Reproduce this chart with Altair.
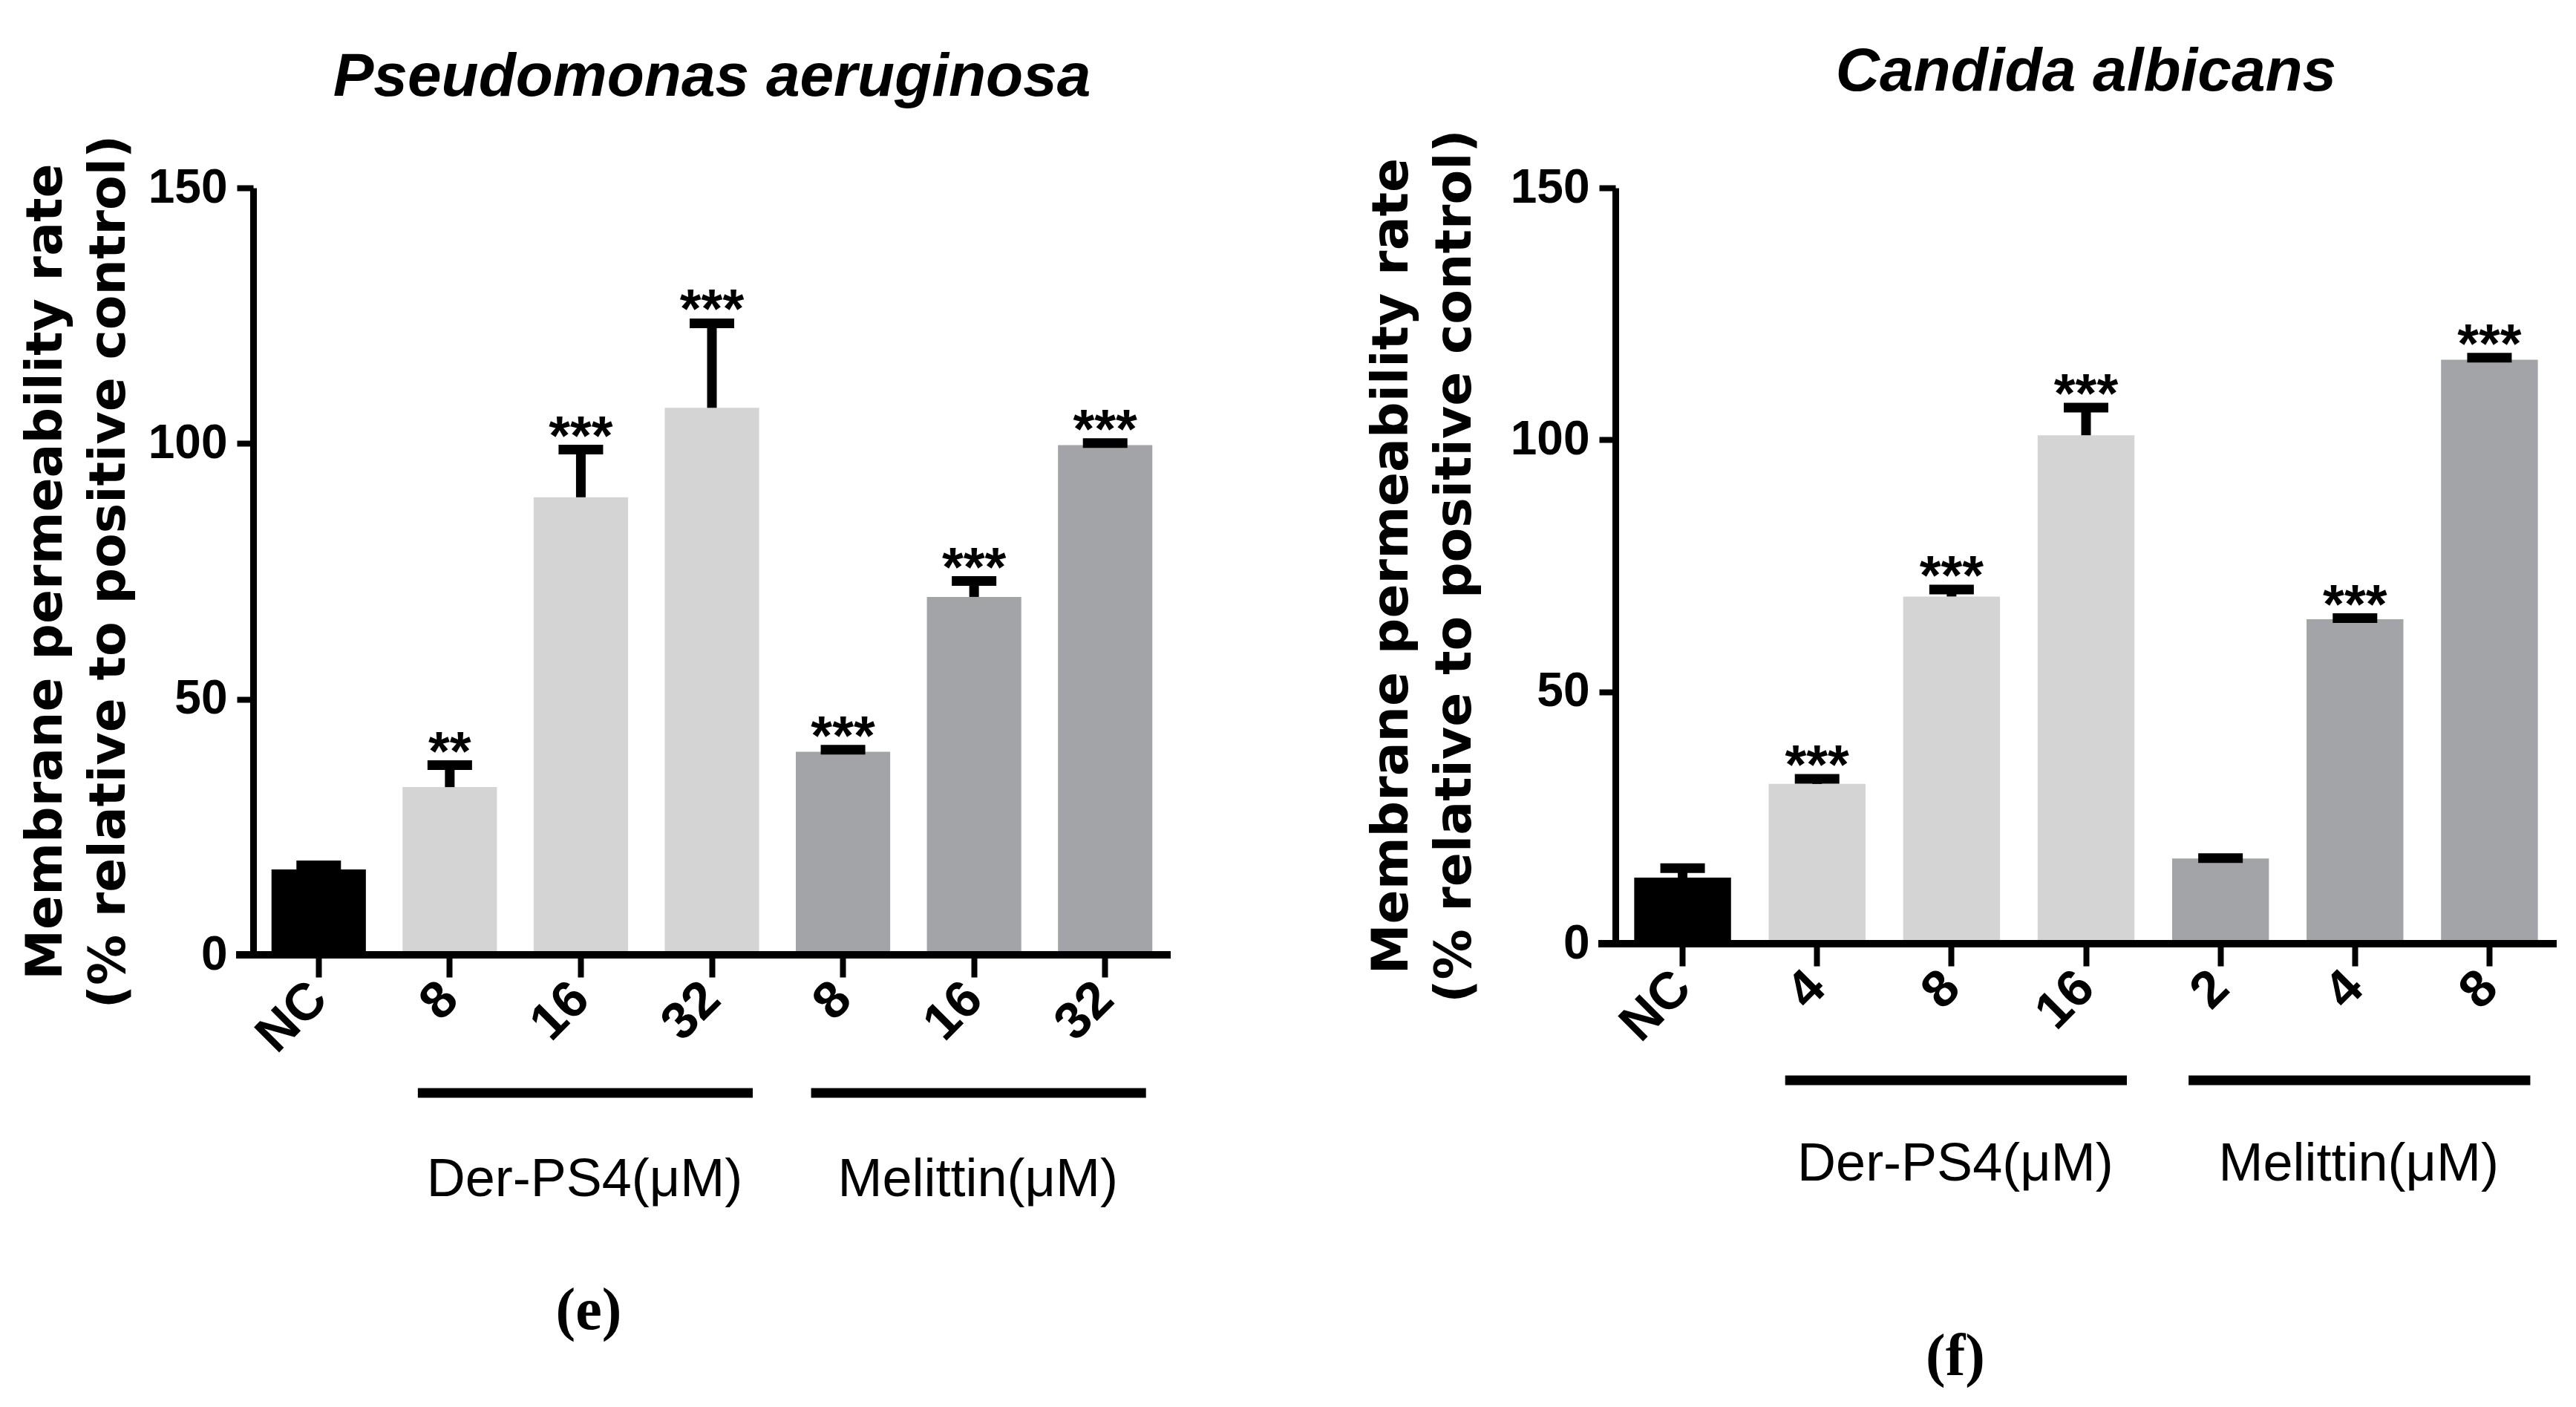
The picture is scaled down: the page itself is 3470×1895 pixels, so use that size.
import altair as alt
import pandas as pd

SANS = "Liberation Sans, Arial, sans-serif"
WIDE = "DejaVu Sans, Verdana, sans-serif"
SERIF = "Liberation Serif, Times New Roman, serif"

# ---- data ----
left_cats = ["NC", "Der-PS4 8", "Der-PS4 16", "Der-PS4 32", "Melittin 8", "Melittin 16", "Melittin 32"]
left_ticks = ["NC", "8", "16", "32", "8", "16", "32"]
left_groups = ["NC", "Der-PS4", "Der-PS4", "Der-PS4", "Melittin", "Melittin", "Melittin"]
left_mean = [16.7, 32.8, 89.5, 107.0, 39.7, 70.0, 99.7]
left_sd = [0.8, 4.3, 9.3, 16.5, 0.4, 3.1, 0.4]
left_stars = ["", "**", "***", "***", "***", "***", "***"]

right_cats = ["NC", "Der-PS4 4", "Der-PS4 8", "Der-PS4 16", "Melittin 2", "Melittin 4", "Melittin 8"]
right_ticks = ["NC", "4", "8", "16", "2", "4", "8"]
right_groups = ["NC", "Der-PS4", "Der-PS4", "Der-PS4", "Melittin", "Melittin", "Melittin"]
right_mean = [13.1, 31.7, 68.9, 100.9, 16.9, 64.4, 115.9]
right_sd = [1.9, 1.0, 1.4, 5.5, 0.1, 0.2, 0.4]
right_stars = ["", "***", "***", "***", "", "***", "***"]

group_names = ["NC", "Der-PS4", "Melittin"]
group_colors = ["#000000", "#d4d4d4", "#a3a4a8"]
group_labels = ["Der-PS4(\u03bcM)", "Melittin(\u03bcM)"]

y_title = ["Membrane permeability rate", "(% relative to positive control)"]


def label_expr(cats, ticks):
    expr = "''"
    for c, t in reversed(list(zip(cats, ticks))):
        expr = f"datum.value == '{c}' ? '{t}' : ({expr})"
    return expr


def panel(cats, ticks, groups, mean, sd, stars, title, tag, width, height,
          rule_y, label_y, tag_x, tag_y, title_pad):
    df = pd.DataFrame({
        "cat": cats, "group": groups, "mean": mean,
        "top": [m + s for m, s in zip(mean, sd)], "stars": stars,
    })
    xscale = alt.Scale(domain=cats, paddingInner=0.28, paddingOuter=0.14)
    xenc = alt.X(
        "cat:N", scale=xscale,
        axis=alt.Axis(
            title=None, domain=False, tickSize=30, tickWidth=8, tickColor="black",
            labelAngle=-45, labelAlign="right", labelBaseline="middle",
            labelFont=SANS, labelFontWeight="bold", labelFontSize=70,
            labelColor="black", labelPadding=18, labelExpr=label_expr(cats, ticks),
        ),
    )
    yscale = alt.Scale(domain=[0, 150], nice=False)
    base = alt.Chart(df).encode(x=xenc)
    bars = base.mark_bar().encode(
        y=alt.Y("mean:Q", scale=yscale, axis=alt.Axis(
            values=[0, 50, 100, 150], grid=False, tickSize=22, tickWidth=8,
            tickColor="black", domainWidth=9, domainColor="black",
            labelFont=SANS, labelFontWeight="bold", labelFontSize=64,
            labelColor="black", labelPadding=13,
            title=y_title, titleFont=WIDE, titleFontWeight="bold",
            titleFontSize=68, titleLineHeight=85, titlePadding=title_pad,
            titleColor="black",
        )),
        color=alt.Color("group:N", scale=alt.Scale(domain=group_names, range=group_colors),
                        legend=None),
    )
    stem = base.mark_rule(color="black", strokeWidth=13).encode(y="mean:Q", y2="top:Q")
    cap = base.mark_tick(color="black", opacity=1, thickness=13, size=60).encode(y="top:Q")
    star = base.mark_text(font=SANS, fontSize=74, fontWeight="bold", color="black",
                          baseline="alphabetic", dy=6).encode(y="top:Q", text="stars:N")

    xline = alt.Chart(pd.DataFrame({"v": [0]})).mark_rule(
        color="black", strokeWidth=10).encode(
        y=alt.datum(0), x=alt.value(-23), x2=alt.value(width))

    gdf = pd.DataFrame({
        "start": [cats[1], cats[4]], "end": [cats[3], cats[6]],
        "mid": [cats[2], cats[5]], "label": group_labels,
    })
    gbase = alt.Chart(gdf)
    grule = gbase.mark_rule(color="black", strokeWidth=13, xOffset=-43, x2Offset=55).encode(
        x=alt.X("start:N", scale=xscale, bandPosition=0.5),
        x2=alt.X2("end:N", bandPosition=0.5),
        y=alt.value(rule_y),
    )
    gtext = gbase.mark_text(font=SANS, fontSize=72, color="black", baseline="alphabetic",
                            dx=5).encode(
        x=alt.X("mid:N", scale=xscale), y=alt.value(label_y), text="label:N")

    tagc = alt.Chart(pd.DataFrame({"t": [tag]})).mark_text(
        font=SERIF, fontSize=80, fontWeight="bold", color="black", baseline="middle").encode(
        x=alt.value(tag_x), y=alt.value(tag_y), text="t:N")

    return alt.layer(bars, stem, cap, star, xline, grule, gtext, tagc).properties(
        width=width, height=height,
        title=alt.TitleParams(title, font=SANS, fontStyle="italic", fontWeight="bold",
                              fontSize=82, anchor="middle", color="black", offset=35),
    )


left = panel(left_cats, left_ticks, left_groups, left_mean, left_sd, left_stars,
             "Pseudomonas aeruginosa", "(e)", 1236, 1033,
             1033 + 186, 1033 + 325, 452, 1033 + 480, 18)
right = panel(right_cats, right_ticks, right_groups, right_mean, right_sd, right_stars,
              "Candida albicans", "(f)", 1268, 1018,
              1018 + 184, 1018 + 319, 458, 1018 + 557, 40)

chart = alt.hconcat(left, right, spacing=259).properties(
    padding={"left": 20, "top": 47, "right": 5, "bottom": 5},
    background="white",
).configure_view(stroke=None)

chart.save("out.html", embed_options={"renderer": "svg", "actions": False})
